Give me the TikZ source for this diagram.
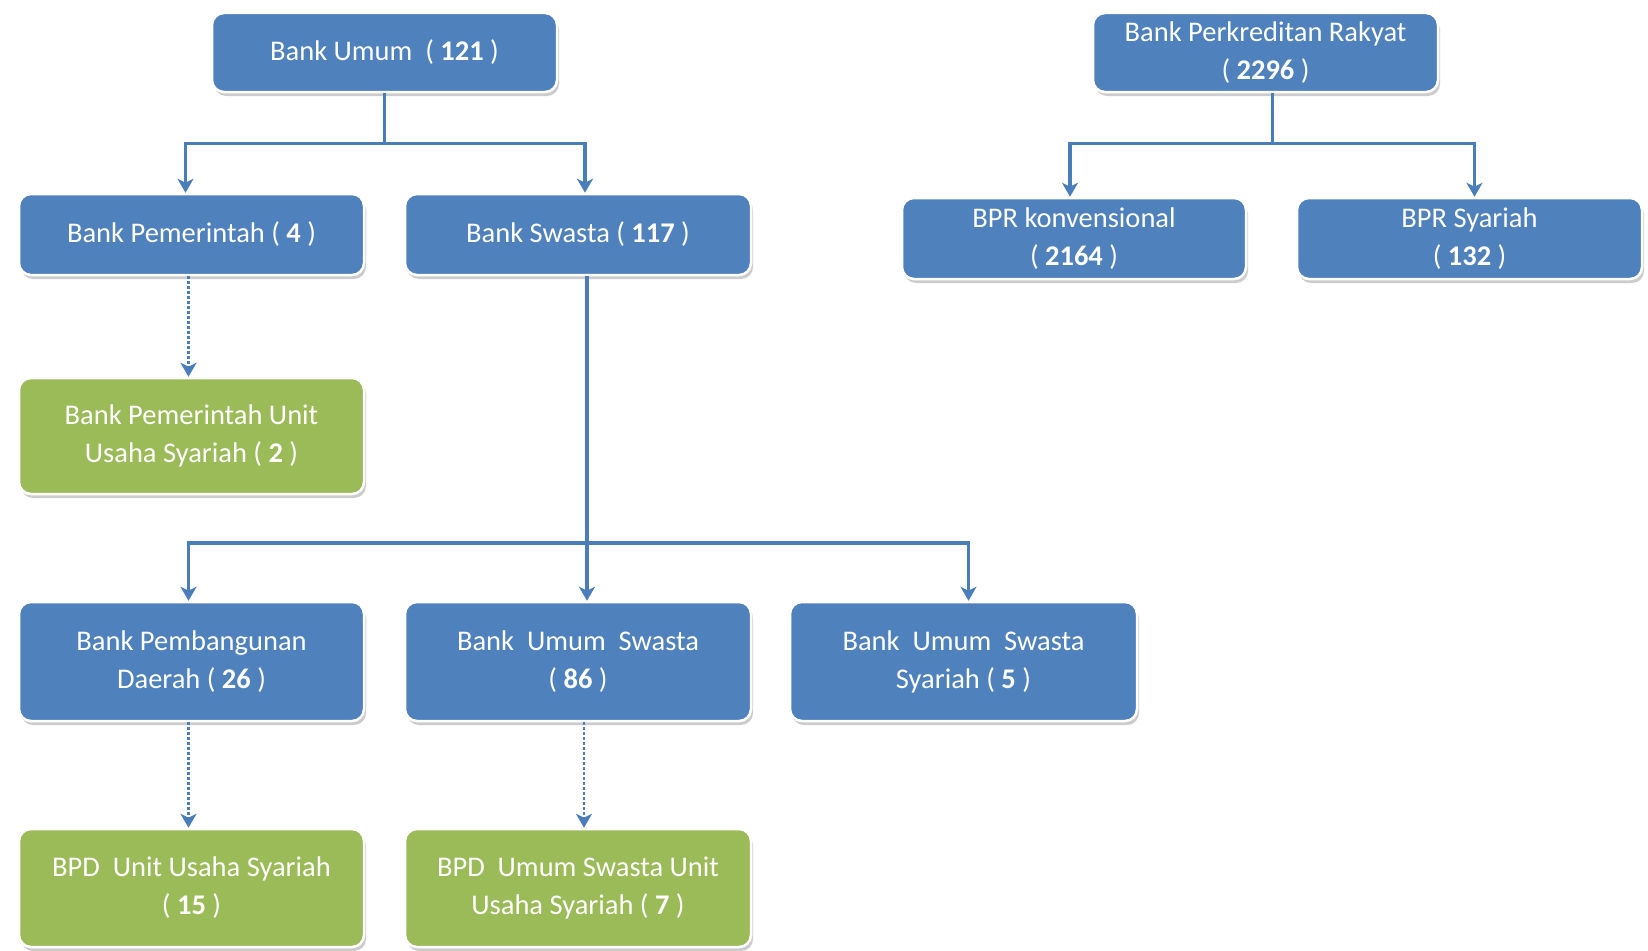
\documentclass[tikz,border=0pt]{standalone}
\usepackage{fontspec}
\setmainfont{Carlito}
\usetikzlibrary{arrows.meta,shadows}
\definecolor{boxblue}{HTML}{4F81BD}
\definecolor{boxgreen}{HTML}{9BBB59}
\definecolor{lineblue}{HTML}{4A7EBB}
\tikzset{
  card/.style={rounded corners=12pt, draw=white, line width=2.5pt,
    text=white, align=center, inner sep=0pt,
    font=\fontsize{28.5}{38}\selectfont,
    drop shadow={opacity=0.4, shadow xshift=2pt, shadow yshift=-4pt}},
  bluecard/.style={card, fill=boxblue},
  greencard/.style={card, fill=boxgreen},
  conn/.style={draw=lineblue, line width=3.3pt},
  arr/.style={conn, -{Stealth[length=14pt,width=16pt,inset=4pt]}},
  dotarr/.style={draw=lineblue, line width=2.6pt, dash pattern=on 3pt off 2pt,
    -{Stealth[length=14pt,width=16pt,inset=4pt]}}
}
\begin{document}
\begin{tikzpicture}[x=1pt,y=-1pt]
\useasboundingbox (0,0) rectangle (1648,950);
\fill[white] (0,0) rectangle (1648,950);
% top level
\node[bluecard, minimum width=345pt, minimum height=79pt] (bu) at (384.5,52.5) {Bank Umum\ \ ( \textbf{121} )};
\node[bluecard, minimum width=345pt, minimum height=79pt] (bpr) at (1265.5,52.5) {Bank Perkreditan Rakyat\\( \textbf{2296} )};
% second level
\node[bluecard, minimum width=345pt, minimum height=81pt] (bp) at (191.5,234.5) {Bank Pemerintah ( \textbf{4} )};
\node[bluecard, minimum width=346pt, minimum height=81pt] (bs) at (578,234.5) {Bank Swasta ( \textbf{117} )};
\node[bluecard, minimum width=344pt, minimum height=81pt] (bprk) at (1074,238.5) {BPR konvensional\\( \textbf{2164} )};
\node[bluecard, minimum width=345pt, minimum height=81pt] (bprs) at (1469.5,238.5) {BPR Syariah\\( \textbf{132} )};
% green
\node[greencard, minimum width=345pt, minimum height=116pt] (gp) at (191.5,436) {Bank Pemerintah Unit\\Usaha Syariah ( \textbf{2} )};
% third level
\node[bluecard, minimum width=345pt, minimum height=119pt] (bpd) at (191.5,661.5) {Bank Pembangunan\\Daerah ( \textbf{26} )};
\node[bluecard, minimum width=346pt, minimum height=119pt] (bus) at (578,661.5) {Bank\ \ Umum\ \ Swasta\\( \textbf{86} )};
\node[bluecard, minimum width=347pt, minimum height=119pt] (buss) at (963.5,661.5) {Bank\ \ Umum\ \ Swasta\\Syariah ( \textbf{5} )};
% bottom green
\node[greencard, minimum width=345pt, minimum height=118pt] (gbpd) at (191.5,888) {BPD\ \ Unit Usaha Syariah\\( \textbf{15} )};
\node[greencard, minimum width=346pt, minimum height=118pt] (gbus) at (578,888) {BPD\ \ Umum Swasta Unit\\Usaha Syariah ( \textbf{7} )};
% connectors: Bank Umum
\draw[conn] (bu.south) -- ++(0,50) coordinate (j1);
\draw[arr] (j1) -| ([xshift=-6pt]bp.north);
\draw[arr] (j1) -| ([xshift=7pt]bs.north);
% connectors: BPR
\draw[conn] ([xshift=7pt]bpr.south) -- ++(0,50) coordinate (j2);
\draw[arr] (j2) -| ([xshift=-4pt]bprk.north);
\draw[arr] (j2) -| ([xshift=5pt]bprs.north);
% Bank Swasta
\draw[conn] ([xshift=9pt]bs.south) -- ([xshift=9pt]bs.south |- 0,543) coordinate (j3);
\draw[arr] (j3) -- ([xshift=9pt]bus.north);
\draw[arr] (j3) -| ([xshift=-3pt]bpd.north);
\draw[arr] (j3) -| ([xshift=5pt]buss.north);
% dotted
\draw[dotarr] ([xshift=-3pt]bp.south) -- ([xshift=-3pt]gp.north);
\draw[dotarr] ([xshift=-3pt]bpd.south) -- ([xshift=-3pt]gbpd.north);
\draw[dotarr] ([xshift=6pt]bus.south) -- ([xshift=6pt]gbus.north);
\end{tikzpicture}
\end{document}
